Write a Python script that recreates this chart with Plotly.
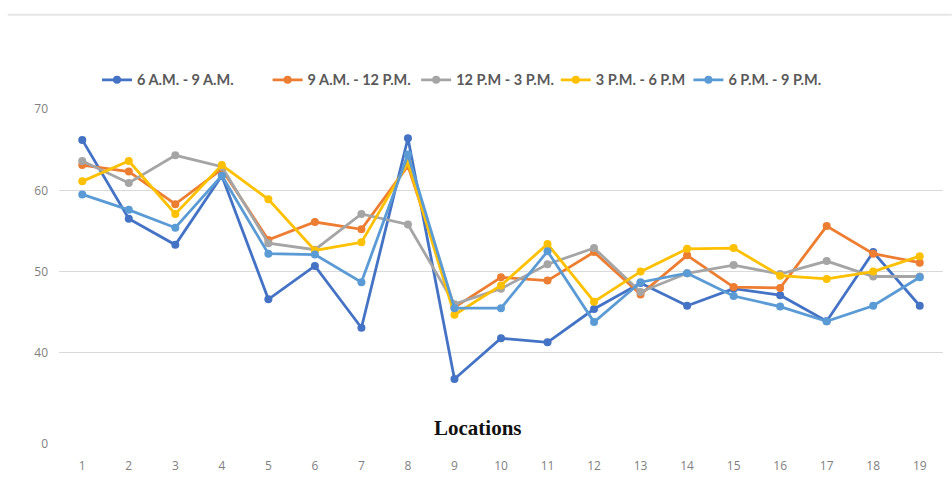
import plotly.graph_objects as go

locations = list(range(1, 20))
series_names = ["6 A.M. - 9 A.M.", "9 A.M. - 12 P.M.", "12 P.M - 3 P.M.", "3 P.M. - 6 P.M", "6 P.M. - 9 P.M."]

am6_9 = [66.2, 56.5, 53.3, 61.8, 46.6, 50.7, 43.1, 66.4, 36.8, 41.8, 41.3, 45.4, 48.6, 45.8, 47.9, 47.1, 43.9, 52.4, 45.8]
am9_12 = [63.1, 62.3, 58.3, 62.6, 53.9, 56.1, 55.2, 63.0, 45.6, 49.3, 48.9, 52.4, 47.2, 52.0, 48.1, 48.0, 55.6, 52.2, 51.1]
pm12_3 = [63.6, 60.9, 64.3, 62.9, 53.5, 52.7, 57.1, 55.8, 46.0, 47.9, 50.9, 52.9, 47.5, 49.8, 50.8, 49.7, 51.3, 49.4, 49.4]
pm3_6 = [61.1, 63.6, 57.1, 63.1, 58.9, 52.6, 53.6, 63.4, 44.7, 48.3, 53.4, 46.3, 50.0, 52.8, 52.9, 49.5, 49.1, 50.0, 51.9]
pm6_9 = [59.5, 57.6, 55.4, 61.8, 52.2, 52.1, 48.7, 64.4, 45.5, 45.5, 52.5, 43.8, 48.7, 49.8, 47.0, 45.7, 43.9, 45.8, 49.3]

# y axis as drawn in the original: a broken axis whose lowest tick reads "0"
y_tick_vals = [28.8, 40, 50, 60, 70]
y_tick_text = ["0", "40", "50", "60", "70"]
x_tick_text = [str(i) for i in locations]

colors = ["#4472C4", "#ED7D31", "#A5A5A5", "#FFC000", "#5B9BD5"]
all_series = [am6_9, am9_12, pm12_3, pm3_6, pm6_9]
legend_ids = ["legend", "legend2", "legend3", "legend4", "legend5"]
legend_x = [0.043, 0.236, 0.404, 0.562, 0.712]

fig = go.Figure()
for name, vals, col, lid in zip(series_names, all_series, colors, legend_ids):
    fig.add_trace(go.Scatter(
        x=locations, y=vals, name=name, mode="lines+markers",
        line=dict(color=col, width=2.8),
        marker=dict(color=col, size=8),
        legend=lid,
    ))

legend_style = dict(
    orientation="h", xanchor="left", y=1.087, yanchor="middle",
    font=dict(family="Lato", size=14.5, color="#595959", weight="bold"),
    itemwidth=30, bgcolor="rgba(0,0,0,0)",
)
layout_legends = {}
for lid, lx in zip(legend_ids, legend_x):
    layout_legends[lid] = dict(legend_style, x=lx)

fig.update_layout(
    width=952, height=481,
    margin=dict(l=59, r=9, t=109, b=37),
    paper_bgcolor="white", plot_bgcolor="white",
    showlegend=True,
    xaxis=dict(
        range=[0.5, 19.5], tickmode="array", tickvals=locations, ticktext=x_tick_text,
        showgrid=False, zeroline=False, showline=False, automargin=False,
        tickfont=dict(family="Open Sans", size=12, color="#7f7f7f"),
        ticks="", ticklabelstandoff=13,
    ),
    yaxis=dict(
        range=[28.8, 70], tickmode="array", tickvals=y_tick_vals, ticktext=y_tick_text,
        showgrid=True, gridcolor="#d9d9d9", gridwidth=1, zeroline=False, showline=False,
        automargin=False,
        tickfont=dict(family="Open Sans", size=12, color="#7f7f7f"),
        ticks="", ticklabelstandoff=10,
    ),
    annotations=[dict(
        text="<b>Locations</b>", x=0.474, xref="paper", y=(444.3 - 428) / 335.0, yref="paper",
        xanchor="center", yanchor="middle",
        showarrow=False, font=dict(family="Liberation Serif", size=21, color="#111111"),
    )],
    shapes=[dict(type="line", xref="paper", yref="paper", x0=-0.058, x1=1.01, y0=1.2815, y1=1.2815,
                 line=dict(color="#e6e6e6", width=2))],
    **layout_legends,
)

fig.write_html("out.html", config={"displayModeBar": False},
               post_script="document.body.style.margin='0px';")
